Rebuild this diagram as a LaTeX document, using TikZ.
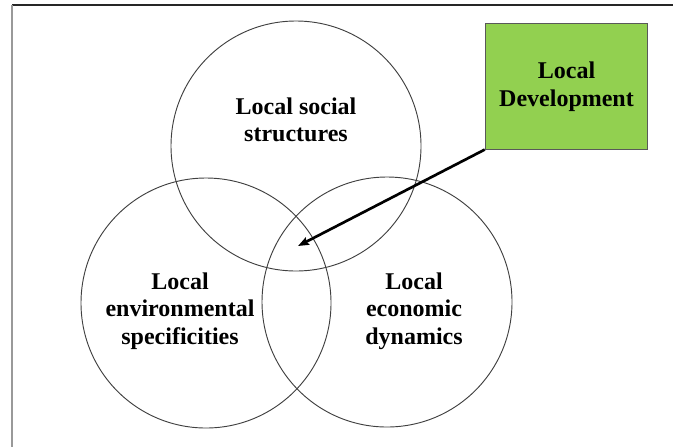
\documentclass[tikz,border=0pt]{standalone}
\usepackage{fontspec}
\setmainfont{Liberation Serif}
\usepackage{xcolor}
\usepackage{tikz}
\usetikzlibrary{arrows.meta,positioning,calc}
\definecolor{devgreen}{HTML}{92D050}
\definecolor{ringgray}{HTML}{404040}

\begin{document}
\begin{tikzpicture}[x=0.75pt,y=-0.75pt]
\tikzset{ring/.style={draw=ringgray,line width=0.7pt,circle,minimum size=187.5pt,inner sep=0pt}}
\tikzset{topic/.style={align=center,font=\fontsize{18}{20.5}\selectfont\bfseries}}
\tikzset{goalbox/.style={draw=black!65,fill=devgreen,line width=0.6pt,minimum width=122pt,minimum height=94pt,inner sep=0pt,align=center,font=\fontsize{18}{21}\selectfont\bfseries}}
\useasboundingbox (0,0) rectangle (673,447);
% frame
\draw[black!85,line width=0.9pt] (12,5) -- (673,5);
\draw[black!40,line width=1.2pt] (12,5) -- (12,447);
% the three rings
\node[ring] (social) at (296,146) {};
\node[ring] (environ) at (206,303) {};
\node[ring] (economy) at (387,302) {};
\node[topic] (socialtxt) at (296,120) {Local social\\structures};
\node[topic] (environtxt) at (180,311) {Local\\environmental\\specificities};
\node[topic] (economytxt) at (414,311) {Local\\economic\\dynamics};
% goal
\node[goalbox] (dev) at (566.5,86.5) {Local\\Development};
\coordinate (core) at (298,246);
\draw[line width=2pt,-{Stealth[length=8pt,width=6pt,inset=1pt]}] (dev.south west) -- (core);
\end{tikzpicture}
\end{document}
